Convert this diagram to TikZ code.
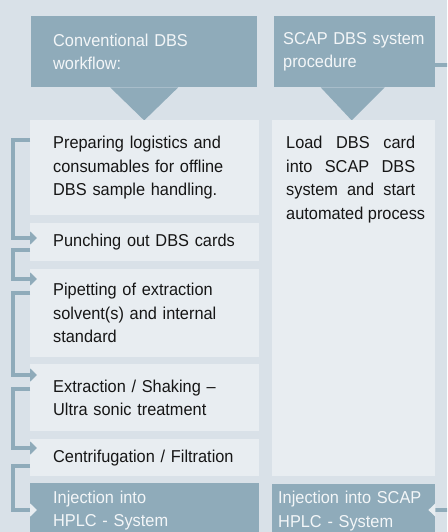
\documentclass[tikz,border=0pt]{standalone}
\usepackage{fontspec}
\setmainfont[FakeStretch=0.95]{Liberation Sans}
\usetikzlibrary{arrows.meta,calc,backgrounds}
\definecolor{pagebg}{HTML}{D9E1E8}
\definecolor{hdr}{HTML}{8FABBA}
\definecolor{boxlt}{HTML}{E8EDF1}
\definecolor{txtdark}{HTML}{161616}
\definecolor{txtlight}{HTML}{F3F6F8}
\tikzset{
  base/.style={anchor=north west, rectangle, inner ysep=0pt, align=left,
    font=\fontsize{17.2}{23.5}\selectfont},
  hdrbox/.style={base, fill=hdr, text=txtlight},
  ltbox/.style={base, fill=boxlt, text=txtdark, inner xsep=23pt, text width=183pt, minimum width=229pt},
  conn/.style={draw=hdr, line width=4pt},
  tipd/.style={-{Triangle[length=7pt,width=13pt]}},
  tipl/.style={-{Triangle[length=7pt,width=13pt,color=boxlt]}},
}
\newcommand{\jl}[2]{\makebox[#1][s]{#2}}
\begin{document}
\begin{tikzpicture}[x=1pt,y=-1pt]
\useasboundingbox (0,0) rectangle (447,532);
\clip (0,0) rectangle (447,532);
\fill[pagebg] (0,0) rectangle (447,532);
% headers
\node[hdrbox, inner xsep=22pt, text width=182pt, minimum width=226pt, minimum height=71pt] (h1) at (31,16) {Conventional DBS\\workflow:};
\node[hdrbox, inner xsep=9pt, text width=143pt, minimum width=161pt, minimum height=71pt] (h2) at (274,16) {SCAP DBS system\\procedure};
\fill[hdr] ($(h1.south)+(-34,0)$) -- ($(h1.south)+(34,0)$) -- ($(h1.south)+(0,33)$) -- cycle;
\fill[hdr] ($(h2.south)+(-34,0)$) -- ($(h2.south)+(30,0)$) -- ($(h2.south)+(-3,33)$) -- cycle;
% left column
\node[ltbox, minimum height=95pt] (b1) at (30,120) {\jl{179pt}{Preparing logistics and}\\\jl{179pt}{consumables for offline}\\DBS sample handling.};
\node[ltbox, minimum height=38pt] (punch) at (30,223) {Punching out DBS cards};
\node[ltbox, minimum height=88pt] (pipet) at (30,269) {\jl{173pt}{Pipetting of extraction}\\\jl{173pt}{solvent(s) and internal}\\standard};
\node[ltbox, minimum height=67pt] (extr) at (30,364) {Extraction / Shaking –\\Ultra sonic treatment};
\node[ltbox, minimum height=37pt] (centr) at (30,439) {Centrifugation / Filtration};
\node[ltbox, fill=hdr, text=txtlight, minimum height=55pt] (injL) at (30,483) {Injection into\\HPLC - System};
% right column
\node[base, fill=boxlt, text=txtdark, inner xsep=0pt, inner ysep=16pt] (b2) at (272,120)
  {\parbox[c][323.5pt][t]{163pt}{\leftskip=14pt\relax\jl{129pt}{Load DBS card}\\\jl{129pt}{into SCAP DBS}\\\jl{129pt}{system and start}\\automated process}};
\node[base, fill=hdr, text=txtlight, inner xsep=6pt, text width=151pt, minimum width=163pt, minimum height=54pt] (injR) at (272,484) {Injection into SCAP\\HPLC - System};
% connectors
\draw[conn, tipd] (b1.west |- 0,140) -- ++(-17,0) |- ($(punch.west |- 0,238)+(7,0)$);
\draw[conn, tipd] (punch.west |- 0,250) -- ++(-17,0) |- ($(pipet.west |- 0,279)+(7,0)$);
\draw[conn, tipd] (pipet.west |- 0,293) -- ++(-17,0) |- ($(extr.west |- 0,375)+(7,0)$);
\draw[conn, tipd] (extr.west |- 0,389) -- ++(-17,0) |- ($(centr.west |- 0,448)+(7,0)$);
\draw[conn, tipl] (centr.west |- 0,466) -- ++(-17,0) |- ($(injL.west |- 0,510)+(7,0)$);
\draw[conn, tipl] (h2.east |- 0,65) -- (453,65) |- ($(injR.east |- 0,510)+(-7,0)$);
\end{tikzpicture}
\end{document}
